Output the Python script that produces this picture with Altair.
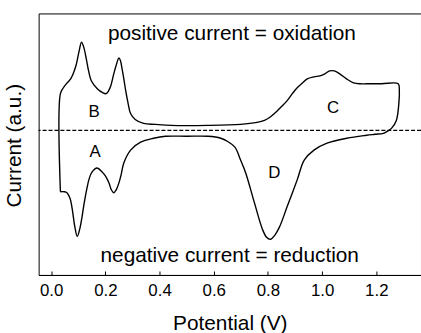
import altair as alt
import pandas as pd

# Cyclic voltammogram, traced in sweep order:
# anodic sweep (peaks B and C) out to the vertex, cathodic sweep (peaks D and A) back.
potential = [
    # anodic, low-potential region
    0.034, 0.034, 0.045, 0.056, 0.066, 0.074, 0.085, 0.093, 0.103, 0.112,
    0.120, 0.129, 0.138, 0.148, 0.170, 0.190, 0.202, 0.212, 0.220, 0.230,
    0.239, 0.250, 0.256, 0.261, 0.268, 0.275, 0.284, 0.293, 0.310, 0.341,
    0.385, 0.443,
    # anodic C wave, vertex, cathodic D wave
    0.579, 0.699, 0.760, 0.787, 0.806, 0.824, 0.850, 0.871, 0.890, 0.908,
    0.928, 0.945, 0.970, 0.992, 1.010, 1.028, 1.045, 1.065, 1.090, 1.116,
    1.140, 1.164, 1.220, 1.281, 1.285, 1.284, 1.274, 1.256, 1.240, 1.226,
    1.195, 1.164, 1.091, 1.018, 0.970, 0.934, 0.908, 0.871, 0.842, 0.825,
    0.809, 0.795, 0.780, 0.750, 0.718, 0.699, 0.678, 0.650, 0.626, 0.579,
    0.500, 0.422,
    # cathodic, low-potential region (A)
    0.378, 0.330, 0.293, 0.268, 0.258, 0.250, 0.240, 0.231, 0.222, 0.213,
    0.200, 0.188, 0.169, 0.151, 0.140, 0.133, 0.122, 0.114, 0.105, 0.096,
    0.087, 0.078, 0.072, 0.067, 0.058, 0.049, 0.034,
]
current = [
    -62, 37, 43, 47, 50, 53, 60, 67, 80, 89,
    84, 73, 60, 50, 42, 38, 37, 40, 45, 56,
    65, 73, 70, 63, 52, 40, 27, 17, 11, 7,
    6, 5,
    5, 6, 8, 10, 13, 17, 24, 30, 37, 43,
    48, 52, 54, 55, 57, 60, 60, 57, 52, 48,
    47, 47, 47, 47, 40, 30, 10, 2, -1, -3,
    -4, -5, -8, -13, -20, -30, -50, -77, -98, -106,
    -110, -108, -100, -73, -43, -30, -17, -11, -8, -6,
    -6, -6,
    -8, -12, -20, -33, -45, -53, -60, -63, -60, -53,
    -46, -42, -38, -42, -49, -57, -73, -87, -100, -107,
    -97, -80, -71, -67, -63, -62, -62,
]

# Region labels
label_text = ["B", "A", "C", "D"]
label_x = [0.158, 0.162, 1.040, 0.824]
label_y = [18, -22, 23, -43]

# Explanatory notes
note_text = ["positive current = oxidation", "negative current = reduction"]
note_x = [0.667, 0.659]
note_y = [97, -127]

x_ticks = [0.0, 0.2, 0.4, 0.6, 0.8, 1.0, 1.2]
x_domain = [-0.0464, 1.365]
y_domain = [-146, 118]

FONT = "Liberation Sans"

cv = pd.DataFrame({"E": potential, "I": current, "step": range(len(potential))})
labels = pd.DataFrame({"t": label_text, "E": label_x, "I": label_y})
notes = pd.DataFrame({"t": note_text, "E": note_x, "I": note_y})

x_scale = alt.Scale(domain=x_domain, nice=False, zero=False)
y_scale = alt.Scale(domain=y_domain, nice=False, zero=False)

x_axis = alt.Axis(
    values=x_ticks, format=".1f", title="Potential (V)", grid=False,
    labelFont=FONT, labelFontSize=17, labelColor="black", labelPadding=12,
    domainColor="black", domainWidth=1, tickColor="black",
    tickSize=alt.ExprRef(expr="-4"),
    titleFont=FONT, titleFontSize=21, titleFontWeight="normal", titleColor="black",
    titleX=193, titleY=49, titleBaseline="middle", titleAlign="center",
)
y_axis = alt.Axis(
    title="Current (a.u.)", labels=False, ticks=False, domain=False, grid=False,
    titleFont=FONT, titleFontSize=21, titleFontWeight="normal", titleColor="black",
    titleAngle=270, titleX=-24, titleY=133, titleBaseline="middle", titleAlign="center",
)

curve = alt.Chart(cv).mark_line(
    color="black", strokeWidth=1.4, interpolate="catmull-rom"
).encode(
    x=alt.X("E:Q", scale=x_scale, axis=x_axis),
    y=alt.Y("I:Q", scale=y_scale, axis=y_axis),
    order="step:Q",
)

baseline = alt.Chart(pd.DataFrame({"I": [0]})).mark_rule(
    color="black", strokeWidth=1.4, strokeDash=[4, 2]
).encode(y=alt.Y("I:Q", scale=y_scale))

letters = alt.Chart(labels).mark_text(
    font=FONT, fontSize=17, color="black"
).encode(x=alt.X("E:Q", scale=x_scale), y=alt.Y("I:Q", scale=y_scale), text="t:N")

captions = alt.Chart(notes).mark_text(
    font=FONT, fontSize=21, color="black"
).encode(x=alt.X("E:Q", scale=x_scale), y=alt.Y("I:Q", scale=y_scale), text="t:N")

chart = alt.layer(baseline, curve, letters, captions).properties(
    width=386, height=264,
    autosize=alt.AutoSizeParams(type="none"),
    padding={"left": 39, "top": 12, "right": 0, "bottom": 57},
).configure(
    background="white",
    view=alt.ViewConfig(stroke="black", strokeWidth=1),
)

chart.save("out.html", embed_options={"renderer": "svg", "actions": False})
